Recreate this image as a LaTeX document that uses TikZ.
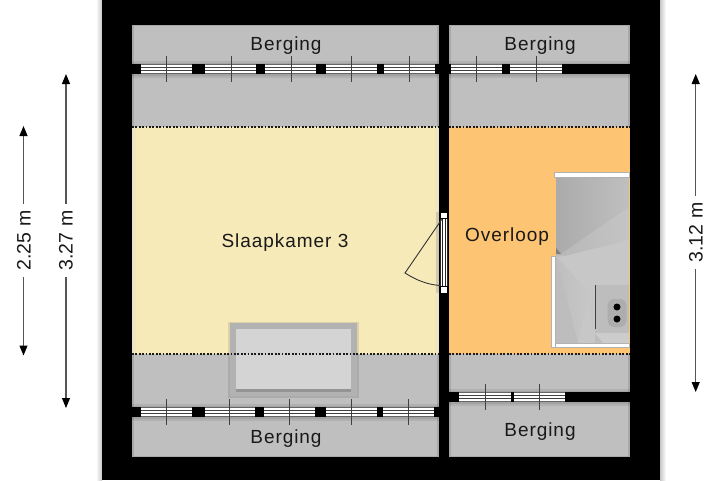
\documentclass[tikz,border=0pt]{standalone}
\usepackage{fontspec}
\setmainfont{Liberation Sans}
\newfontfamily\labfont[LetterSpace=5]{Liberation Sans}
\usetikzlibrary{arrows.meta}
\definecolor{roomgray}{HTML}{BFBFBF}
\definecolor{edgegray}{HTML}{A8A8A8}
\definecolor{yellowroom}{HTML}{F7EAB9}
\definecolor{orangeroom}{HTML}{FDC474}
\definecolor{dimline}{HTML}{555555}
\tikzset{
  x=1pt,y=-1pt,
  roomlabel/.style={inner sep=0pt,font=\labfont\fontsize{19}{22}\selectfont,text=black!90},
  dimlabel/.style={inner sep=1pt,rotate=90,font=\fontsize{19.5}{22}\selectfont,text=black!90},
  dimarrow/.style={draw=dimline,line width=1.1pt,-{Stealth[length=10pt,width=8pt,inset=0pt,black]}},
  tick/.style={draw=black!75,line width=0.8pt},
  blackfill/.style={fill=black,draw=none},
  railw/.style={fill=white,draw=black!30,line width=1pt},
  dotline/.style={draw=black!90,line width=2pt,dash pattern=on 1.8pt off 1.6pt}
}
% soft shadow band: x1, x2, y1
\newcommand{\winshadow}[3]{%
  \fill[black,opacity=0.07] (#1,#3-3.5) rectangle (#2,#3+13.5);
  \fill[black,opacity=0.08] (#1,#3-1.5) rectangle (#2,#3+11.5);
}
% window: x1, x2, y1
\newcommand{\winband}[3]{%
  \fill[white] (#1,#3) rectangle (#2,#3+10);
  \draw[black!60,line width=0.8pt] (#1,#3+0.5) -- (#2,#3+0.5);
  \draw[black!75,line width=0.8pt] (#1,#3+3.6) -- (#2,#3+3.6);
  \draw[black!75,line width=0.8pt] (#1,#3+6.4) -- (#2,#3+6.4);
  \draw[black!60,line width=0.8pt] (#1,#3+9.5) -- (#2,#3+9.5);
}
\begin{document}
\begin{tikzpicture}
\useasboundingbox (0,0) rectangle (720,480);
\fill[white] (0,0) rectangle (720,480);
% outer soft edges
\shade[left color=white,right color=black!22] (96,0) rectangle (102,480);
\shade[left color=black!22,right color=white] (660,0) rectangle (666,480);
\fill[black] (102,0) rectangle (660,480);
% room bases
\fill[edgegray] (132,24.5) rectangle (438.5,457);
\fill[edgegray] (449,24.5) rectangle (629.5,457);
\fill[roomgray] (133.5,26) rectangle (437,455.5);
\fill[roomgray] (450.5,26) rectangle (628,455.5);
% floors
\fill[yellowroom] (132,127) rectangle (438.5,354);
\fill[orangeroom] (449,127) rectangle (629.5,354);
\shade[left color=black!14,right color=yellowroom,opacity=0.5] (132,127) rectangle (136,354);
\shade[left color=yellowroom,right color=black!14,opacity=0.5] (434,127) rectangle (438.5,354);
% window shadows
\winshadow{132}{438.5}{64}
\winshadow{449}{629.5}{64}
\winshadow{132}{438.5}{407}
\winshadow{449}{629.5}{392}
% skylight
\fill[black,opacity=0.1] (227.5,321.5) rectangle (359,398);
\fill[black!30] (229.5,323) rectangle (357,396);
\fill[black!17] (236,329) rectangle (351,390);
\fill[black!42] (236,389) rectangle (351,391.5);
% dotted lines
\draw[dotline] (132,126.5) -- (438.5,126.5);
\draw[dotline] (449,126.5) -- (629.5,126.5);
\draw[dotline] (132,354) -- (438.5,354);
\draw[dotline] (449,354) -- (629.5,354);
% top windows
\winband{132}{438.5}{64}
\winband{449}{562}{64}
\foreach \a/\b in {132/141,191.7/205.3,256.3/265,316/326,376.7/384,435/451,502/510,561.5/630}
  \fill[blackfill] (\a,64) rectangle (\b,74);
\foreach \a in {166,231,291,351.5,409,476,536}
  \draw[tick] (\a,56) -- (\a,82);
% bottom-left window
\winband{132}{438.5}{407}
\foreach \a/\b in {132/140.5,191.5/204.5,255/264,315/325.5,376.5/383,434/439}
  \fill[blackfill] (\a,407) rectangle (\b,417);
\foreach \a in {166,229.7,289.7,351,408}
  \draw[tick] (\a,399) -- (\a,425);
% bottom-right wall with window
\fill[blackfill] (449,392) rectangle (630,402);
\winband{459.3}{565}{392}
\fill[blackfill] (510.5,392) rectangle (514,402);
\foreach \a in {485,539.7}
  \draw[tick] (\a,384) -- (\a,410);
% walls
\fill[blackfill] (438.5,0) rectangle (449,480);
\fill[blackfill] (435,64) rectangle (451,74);
\fill[blackfill] (434,407) rectangle (449,417);
\fill[blackfill] (449,392) rectangle (459.3,402);
% door
\fill[black,opacity=0.12] (436,212) rectangle (440,293);
\fill[white] (440,212) rectangle (447.5,293);
\draw[black!85,line width=0.7pt] (440.5,218) -- (440.5,286);
\draw[black!85,line width=0.7pt] (442.8,218) -- (442.8,286);
\draw[black!85,line width=0.7pt] (445,218) -- (445,286);
\draw[black!85,line width=0.7pt] (447.2,218) -- (447.2,286);
\draw[black,line width=0.7pt,fill=white] (440,212) rectangle (447.5,218.5);
\draw[black,line width=0.7pt,fill=white] (440,286) rectangle (447.5,293);
\draw[black!80,line width=0.9pt] (442,219) -- (405,273) .. controls (416,280) and (428,285) .. (441,285.5);
% stairs
\fill[black!26] (556,176) rectangle (629,344);
\shade[left color=black!33,right color=black!25] (556,177) -- (629,177) -- (629,207) -- (561,254) -- (556,254) -- cycle;
\shade[left color=black!28,right color=black!23] (561,254) -- (629,207) -- (629,240) -- (565,256) -- cycle;
\fill[black!22] (565,256) -- (629,240) -- (629,285) -- (595,285) -- (595,300) -- (556,257) -- cycle;
\shade[left color=black!25,right color=black!22] (556,256) -- (595,300) -- (595,343) -- (556,343) -- cycle;
\fill[black!26] (556,256) -- (578,343) -- (556,343) -- cycle;
\fill[black!22] (578,343) -- (588,298) -- (595,343) -- cycle;
\fill[black!50] (556,248) -- (561,254) -- (556,254) -- cycle;
\fill[black!26] (595,285) rectangle (629,333);
\fill[black!20] (595,333) -- (629,333) -- (629,343) -- (603,343) -- cycle;
\draw[black!75,line width=1pt] (595,285) -- (595,329);
\fill[black!32,rounded corners=7pt] (607.5,299) rectangle (626.5,327);
\node[circle,fill=black,minimum size=7pt,inner sep=0pt] (bolta) at (617,307) {};
\node[circle,fill=black,minimum size=7pt,inner sep=0pt] (boltb) at (617,319) {};
\draw[railw] (554,172.5) rectangle (629.5,177);
\draw[railw] (551,256.5) rectangle (555.5,347.5);
\draw[railw] (555.5,343) rectangle (629.5,347.5);
% room labels
\node[roomlabel] (b1) at (286,45.5) {Berging};
\node[roomlabel] (b2) at (540,45.5) {Berging};
\node[roomlabel] (b3) at (286,438.5) {Berging};
\node[roomlabel] (b4) at (540,431.5) {Berging};
\node[roomlabel] (slaap) at (285,242.5) {Slaapkamer 3};
\node[roomlabel] (over) at (507,236.5) {Overloop};
% dimensions
\node[dimlabel] (d1) at (24,240.5) {2.25 m};
\coordinate (d1t) at (23.5,126);
\coordinate (d1b) at (23.5,355.5);
\draw[dimarrow] (23.5,204) -- (d1t);
\draw[dimarrow] (23.5,277) -- (d1b);
\node[dimlabel] (d2) at (66,240.5) {3.27 m};
\coordinate (d2t) at (66,74);
\coordinate (d2b) at (66,408);
\draw[dimarrow] (66,204) -- (d2t);
\draw[dimarrow] (66,277) -- (d2b);
\node[dimlabel] (d3) at (696,232.5) {3.12 m};
\coordinate (d3t) at (695.7,74);
\coordinate (d3b) at (695.7,392);
\draw[dimarrow] (695.7,196) -- (d3t);
\draw[dimarrow] (695.7,269) -- (d3b);
\end{tikzpicture}
\end{document}
